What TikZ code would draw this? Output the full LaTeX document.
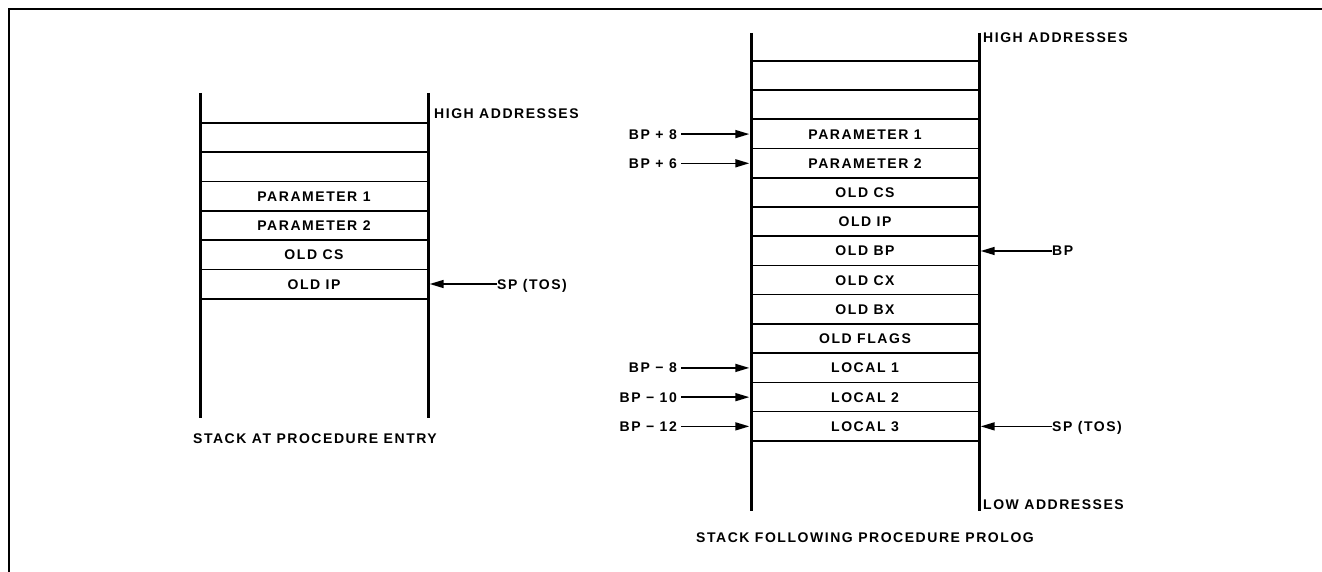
\documentclass[tikz,border=0pt]{standalone}
\usepackage{fontspec}
\setmainfont{Liberation Sans}[LetterSpace=11]
\usetikzlibrary{arrows.meta}
\begin{document}
\begin{tikzpicture}[x=1pt,y=-1pt,
  lbl/.style={font=\fontsize{14}{16}\selectfont\bfseries, inner sep=0pt, text height=10pt, text depth=0pt},
  wall/.style={line width=3pt},
  rule/.style={line width=1.6pt},
  frame/.style={line width=1.5pt},
  ptr/.style={line width=1.6pt, -{Triangle[length=14pt,width=8pt]}},
  cellL/.style={lbl, minimum width=228pt, minimum height=29.33pt},
  cellR/.style={lbl, minimum width=228pt, minimum height=29.23pt}
]
\useasboundingbox (0,0) rectangle (1322,572);
\draw[frame] (9,572) -- (9,9) -- (1322,9);

% ---------- left stack ----------
\foreach \t [count=\i] in {{},{},PARAMETER 1,PARAMETER 2,OLD CS,OLD IP}
  \node[cellL] (l\i) at (314,{123+29.33*(\i-0.5)}) {\t};
\foreach \i in {1,...,6}
  \draw[rule] (l\i.north west) -- (l\i.north east);
\draw[rule] (l6.south west) -- (l6.south east);
\draw[wall] (200,93) -- (200,418);
\draw[wall] (428,93) -- (428,418);

\node[lbl, anchor=west] (lhigh) at (434,114) {HIGH ADDRESSES};
\node[lbl, anchor=west] (lsp) at (497,284) {SP (TOS)};
\draw[ptr, shorten >=1.5pt] (lsp.west) -- (lsp.west -| l6.east);
\node[lbl] (lcap) at (315,438) {STACK AT PROCEDURE ENTRY};

% ---------- right stack ----------
\foreach \t [count=\i] in {{},{},PARAMETER 1,PARAMETER 2,OLD CS,OLD IP,OLD BP,OLD CX,OLD BX,OLD FLAGS,LOCAL 1,LOCAL 2,LOCAL 3}
  \node[cellR] (r\i) at (865,{61+29.23*(\i-0.5)}) {\t};
\foreach \i in {1,...,13}
  \draw[rule] (r\i.north west) -- (r\i.north east);
\draw[rule] (r13.south west) -- (r13.south east);
\draw[wall] (751,33) -- (751,511);
\draw[wall] (979,33) -- (979,511);

\node[lbl, anchor=west] (rhigh) at (983,38) {HIGH ADDRESSES};
\node[lbl, anchor=west] (rlow) at (983,504) {LOW ADDRESSES};
\node[lbl] (rcap) at (865,537) {STACK FOLLOWING PROCEDURE PROLOG};

% labels left of right stack
\node[lbl, anchor=east] (bpa) at (r3.west -| 677,0) {BP + 8};
\node[lbl, anchor=east] (bpb) at (r4.west -| 677,0) {BP + 6};
\node[lbl, anchor=east] (bpc) at (r11.west -| 677,0) {BP − 8};
\node[lbl, anchor=east] (bpd) at (r12.west -| 677,0) {BP − 10};
\node[lbl, anchor=east] (bpe) at (r13.west -| 677,0) {BP − 12};
\foreach \n/\r in {bpa/r3,bpb/r4,bpc/r11,bpd/r12,bpe/r13}
  \draw[ptr, shorten <=4pt, shorten >=1.5pt] (\n.east) -- (\r.west);

% labels right of right stack
\node[lbl, anchor=west] (rbp) at (r7.east -| 1052,0) {BP};
\node[lbl, anchor=west] (rsp) at (r13.east -| 1052,0) {SP (TOS)};
\draw[ptr, shorten >=1.5pt] (rbp.west) -- (r7.east);
\draw[ptr, shorten >=1.5pt] (rsp.west) -- (r13.east);
\end{tikzpicture}
\end{document}
